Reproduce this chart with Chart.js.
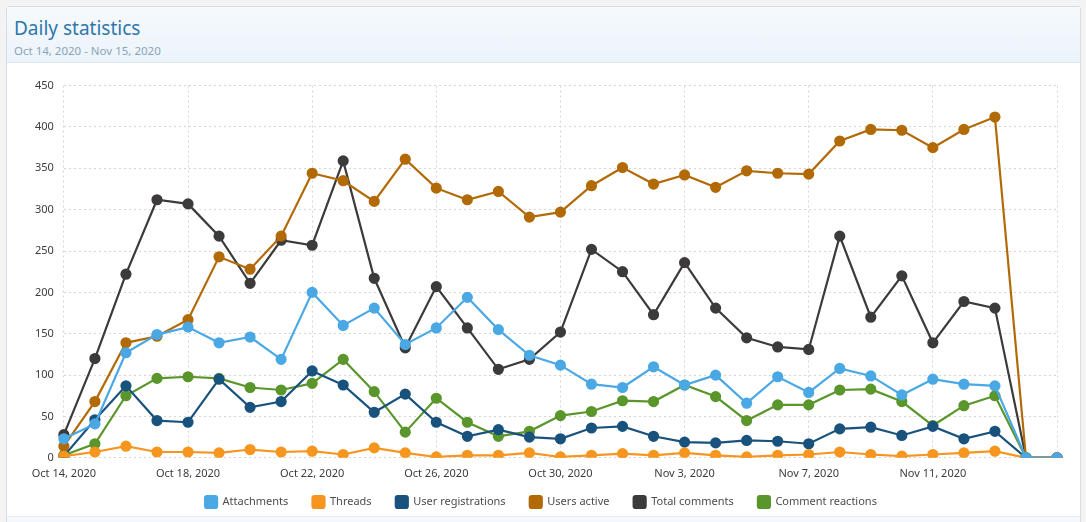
<!DOCTYPE html>
<html>
<head>
<meta charset="utf-8">
<script src="https://cdn.jsdelivr.net/npm/chart.js@4"></script>
<style>
  html, body { margin: 0; padding: 0; background: #f3f3f3; }
  body { width: 1086px; height: 522px; overflow: hidden; font-family: "Noto Sans", sans-serif; }
  .block {
    position: absolute; left: 6px; top: 6px; width: 1075px; height: 520px;
    background: #fff; border: 1px solid #d8dde3; border-radius: 3px; box-sizing: border-box;
  }
  .header {
    height: 56px; border-bottom: 1px solid #dfe6ee;
    background: linear-gradient(to bottom, #f6fafd, #ebf3fa);
    padding: 9px 0 0 7px; box-sizing: border-box;
  }
  .title { font-size: 19px; color: #2f77ab; line-height: 24px; }
  .subtitle { font-size: 11.5px; color: #8ca3b8; line-height: 18px; margin-top: 2px; }
  .chart-wrap { position: absolute; left: 4px; top: 62px; width: 1062px; height: 449px; }
  .footer { position: absolute; left: 0; right: 0; bottom: 0; height: 8px; background: #f4f8fc; border-top: 1px solid #e6edf4; }
</style>
</head>
<body>
<div class="block">
  <div class="header">
    <div class="title">Daily statistics</div>
    <div class="subtitle">Oct 14, 2020 - Nov 15, 2020</div>
  </div>
  <div class="chart-wrap"><canvas id="chart"></canvas></div>
  <div class="footer"></div>
</div>
<script>
const dates = [
  'Oct 14, 2020', 'Oct 15, 2020', 'Oct 16, 2020', 'Oct 17, 2020', 'Oct 18, 2020', 'Oct 19, 2020',
  'Oct 20, 2020', 'Oct 21, 2020', 'Oct 22, 2020', 'Oct 23, 2020', 'Oct 24, 2020', 'Oct 25, 2020',
  'Oct 26, 2020', 'Oct 27, 2020', 'Oct 28, 2020', 'Oct 29, 2020', 'Oct 30, 2020', 'Oct 31, 2020',
  'Nov 1, 2020', 'Nov 2, 2020', 'Nov 3, 2020', 'Nov 4, 2020', 'Nov 5, 2020', 'Nov 6, 2020',
  'Nov 7, 2020', 'Nov 8, 2020', 'Nov 9, 2020', 'Nov 10, 2020', 'Nov 11, 2020', 'Nov 12, 2020',
  'Nov 13, 2020', 'Nov 14, 2020', 'Nov 15, 2020'
]

const attachments = [23, 41, 127, 149, 158, 139, 146, 119, 200, 160, 181, 137, 157, 194, 155, 124, 112,
  89, 85, 110, 88, 100, 66, 98, 79, 108, 99, 76, 95, 89, 87, 0, 0]
const threads = [2, 7, 14, 7, 7, 6, 10, 7, 8, 4, 12, 6, 1, 3, 3, 6, 1,
  3, 5, 3, 6, 3, 1, 3, 4, 7, 4, 2, 4, 6, 8, 0, 0]
const userRegistrations = [2, 46, 87, 45, 43, 95, 61, 68, 105, 88, 55, 77, 43, 26, 34, 25, 23,
  36, 38, 26, 19, 18, 21, 20, 17, 35, 37, 27, 38, 23, 32, 0, 0]
const usersActive = [14, 68, 139, 147, 167, 243, 228, 268, 344, 335, 310, 361, 326, 312, 322, 291, 297,
  329, 351, 331, 342, 327, 347, 344, 343, 383, 397, 396, 375, 397, 412, 0, 0]
const totalComments = [28, 120, 222, 312, 307, 268, 211, 263, 257, 359, 217, 133, 207, 157, 107, 119, 152,
  252, 225, 173, 236, 181, 145, 134, 131, 268, 170, 220, 139, 189, 181, 0, 0]
const commentReactions = [3, 17, 75, 96, 98, 96, 85, 82, 90, 119, 80, 31, 72, 43, 26, 32, 51,
  56, 69, 68, 88, 74, 45, 64, 64, 82, 83, 68, 39, 63, 75, 0, 0]

const yTicks = [0, 50, 100, 150, 200, 250, 300, 350, 400, 450]

function series(label, data, color) {
  return {
    label: label,
    data: data,
    borderColor: color,
    backgroundColor: color,
    borderWidth: 2.2,
    pointRadius: 4.5,
    pointHoverRadius: 5,
    tension: 0,
    fill: false
  }
}

const ctx = document.getElementById('chart').getContext('2d')
new Chart(ctx, {
  type: 'line',
  data: {
    labels: dates,
    datasets: [
      series('Attachments', attachments, '#4aa8e4'),
      series('Threads', threads, '#f6961e'),
      series('User registrations', userRegistrations, '#18527d'),
      series('Users active', usersActive, '#b26a07'),
      series('Total comments', totalComments, '#3c3a3b'),
      series('Comment reactions', commentReactions, '#5a962b')
    ]
  },
  options: {
    responsive: true,
    maintainAspectRatio: false,
    animation: false,
    layout: { padding: { top: 0, right: 16, left: 14, bottom: 0 } },
    plugins: {
      legend: {
        position: 'bottom',
        labels: {
          boxWidth: 12,
          boxHeight: 12,
          padding: 7,
          color: '#4d4d4d',
          font: { family: 'Noto Sans', size: 11 },
          useBorderRadius: true,
          borderRadius: 2,
          // extra spacing between legend items without growing the legend height
          generateLabels: function(chart) {
            const items = Chart.defaults.plugins.legend.labels.generateLabels(chart)
            items.forEach((item, i) => {
              if (i < items.length - 1) item.text = item.text + '      '
            })
            return items
          }
        }
      },
      tooltip: { enabled: false }
    },
    scales: {
      x: {
        offset: false,
        grid: {
          color: '#d6d6d6',
          drawTicks: false
        },
        border: { display: false, dash: [2, 3] },
        ticks: {
          autoSkip: false,
          maxRotation: 0,
          padding: 9,
          color: '#3c3c3c',
          font: { family: 'Noto Sans', size: 11 },
          callback: function(value, index) {
            if (index % 4 !== 0) return null
            if (index === dates.length - 1) return ''
            return dates[index]
          }
        }
      },
      y: {
        min: 0,
        max: 450,
        afterBuildTicks: function(axis) {
          axis.ticks = yTicks.map(v => ({ value: v }))
        },
        grid: {
          color: '#d6d6d6',
          drawTicks: false
        },
        border: { display: false, dash: [2, 3] },
        ticks: {
          padding: 10,
          color: '#3c3c3c',
          font: { family: 'Noto Sans', size: 11 }
        }
      }
    }
  }
})
</script>
</body>
</html>
